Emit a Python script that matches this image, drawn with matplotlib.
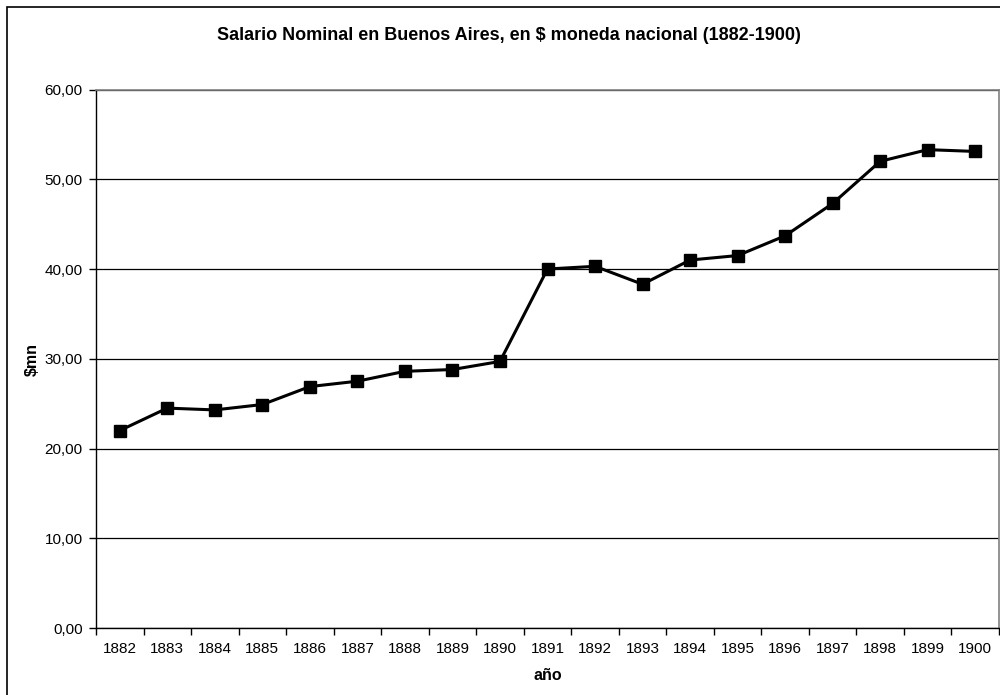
import matplotlib
matplotlib.use("Agg")
import matplotlib.pyplot as plt
import numpy as np
from matplotlib.patches import Rectangle

plt.rcParams['font.family'] = ['Liberation Sans', 'DejaVu Sans']

# data
years = [1882, 1883, 1884, 1885, 1886, 1887, 1888, 1889, 1890, 1891,
         1892, 1893, 1894, 1895, 1896, 1897, 1898, 1899, 1900]
salario = [22.0, 24.5, 24.3, 24.9, 26.9, 27.5, 28.6, 28.8, 29.7, 40.0,
           40.3, 38.3, 41.0, 41.5, 43.7, 47.3, 52.0, 53.3, 53.1]
yticks = [0, 10, 20, 30, 40, 50, 60]

fig = plt.figure(figsize=(10, 6.95), dpi=100)
# outer chart border (right/bottom edges run off the picture)
fig.patches.append(Rectangle((0.007, -0.1), 1.2, 1.09, transform=fig.transFigure,
                             fill=False, edgecolor='black', linewidth=1.2))

ax = fig.add_axes([0.096, 0.0964, 0.903, 0.7748])
x = np.arange(len(years))
ax.plot(x, salario, color='black', linewidth=2.2, marker='s', markersize=8,
        markerfacecolor='black', markeredgecolor='black')

ax.set_xlim(-0.5, len(years) - 0.5)
ax.set_ylim(0, 60)
ax.set_yticks(yticks)
ax.set_yticklabels([f"{v:.2f}".replace('.', ',') for v in yticks], fontsize=11)
ax.yaxis.grid(True, color='black', linewidth=0.9)
ax.set_axisbelow(True)

ax.set_xticks(x)
ax.set_xticklabels([str(y) for y in years], fontsize=11)
ax.set_xticks(np.arange(-0.5, len(years)), minor=True)
ax.tick_params(axis='x', which='major', length=0, pad=10)
ax.tick_params(axis='x', which='minor', length=5, width=1, direction='out')
ax.tick_params(axis='y', length=5, width=1, direction='out', pad=4.5)

for s in ['left', 'bottom']:
    ax.spines[s].set_color('black')
    ax.spines[s].set_linewidth(1)
for s in ['top', 'right']:
    ax.spines[s].set_color('#808080')
    ax.spines[s].set_linewidth(1.2)

fig.text(0.509, 1 - 36 / 695, "Salario Nominal en Buenos Aires, en $ moneda nacional (1882-1900)",
         ha='center', va='center', fontsize=13, fontweight='bold')
fig.text(0.5475, 1 - 675 / 695, "año", ha='center', va='center',
         fontsize=11.5, fontweight='bold')
fig.text(0.032, 1 - 359 / 695, "$mn", ha='center', va='center', rotation=90,
         fontsize=11.5, fontweight='bold')

fig.savefig("out.png", dpi=100)
